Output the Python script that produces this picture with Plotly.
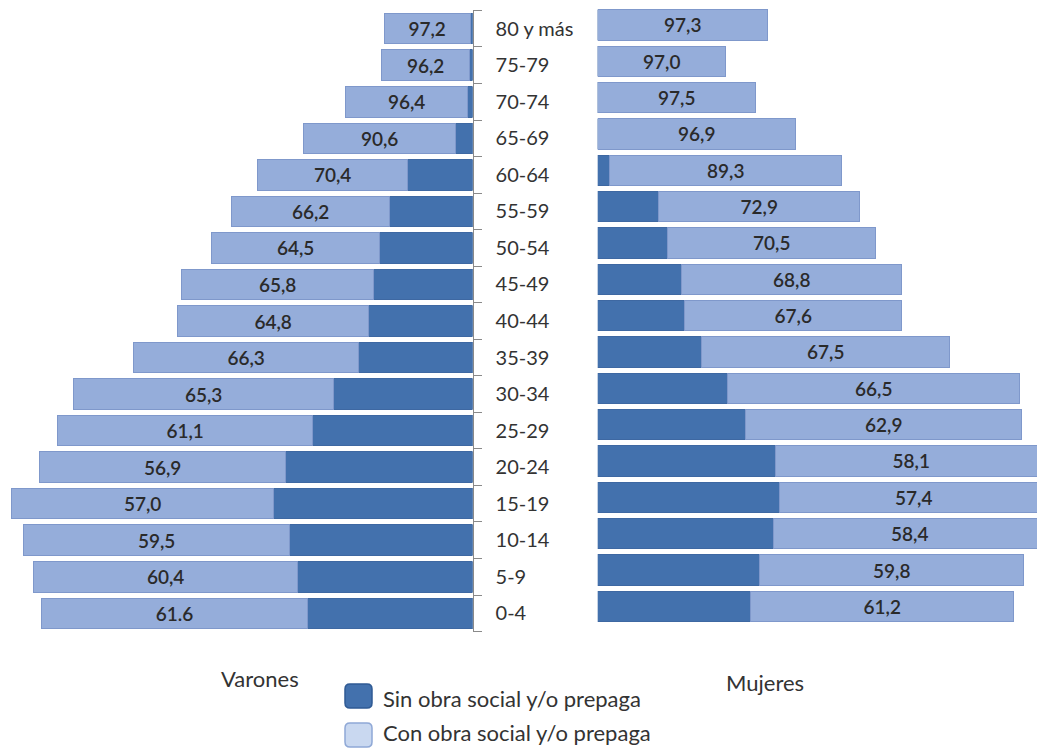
import plotly.graph_objects as go

# ---------------- data ----------------
age_groups = ["0-4", "5-9", "10-14", "15-19", "20-24", "25-29", "30-34", "35-39",
              "40-44", "45-49", "50-54", "55-59", "60-64", "65-69", "70-74",
              "75-79", "80 y más"]

# Varones (arbitrary population units)
varones_sin = [165, 175, 183, 199, 187, 160, 139, 114, 104, 99, 93, 83, 65, 17, 5, 3, 2.5]
varones_con = [266, 264, 266, 262, 246, 255, 260, 225, 191, 192, 168, 158, 150, 152, 122, 88, 86]
varones_pct = ["61.6", "60,4", "59,5", "57,0", "56,9", "61,1", "65,3", "66,3", "64,8",
               "65,8", "64,5", "66,2", "70,4", "90,6", "96,4", "96,2", "97,2"]

# Mujeres
mujeres_sin = [153, 162, 176, 182, 178, 148, 130, 104, 87, 84, 70, 61, 12, 0, 0, 0, 0]
mujeres_con = [263, 264, 272, 268, 271, 276, 292, 248, 217, 220, 208, 201, 232, 198, 158, 128, 170]
mujeres_pct = ["61,2", "59,8", "58,4", "57,4", "58,1", "62,9", "66,5", "67,5", "67,6",
               "68,8", "70,5", "72,9", "89,3", "96,9", "97,5", "97,0", "97,3"]

legend_labels = ["Sin obra social y/o prepaga", "Con obra social y/o prepaga"]
side_titles = ["Varones", "Mujeres"]

# ---------------- style ----------------
W, H = 1037, 749
DARK = "#4371AD"
DARK_LINE = "#3E68A2"
LIGHT = "#95ADDA"
LIGHT_LINE = "#7F98CB"
TXT = "#2A2A2A"
FONT = "Lato"

def px_x(p):
    return p / W

def px_y(p):
    return 1 - p / H

fig = go.Figure()

common_text = dict(textposition="inside", insidetextanchor="middle", textangle=0,
                   constraintext="none",
                   textfont=dict(family=FONT, size=19, color=TXT, weight=600))

fig.add_trace(go.Bar(y=age_groups, x=varones_sin, orientation="h", xaxis="x", yaxis="y",
                     marker=dict(color=DARK, line=dict(color=DARK_LINE, width=1)),
                     name=legend_labels[0], showlegend=False, hoverinfo="skip"))
fig.add_trace(go.Bar(y=age_groups, x=varones_con, orientation="h", xaxis="x", yaxis="y",
                     marker=dict(color=LIGHT, line=dict(color=LIGHT_LINE, width=1)),
                     text=varones_pct, name=legend_labels[1], showlegend=False,
                     hoverinfo="skip", **common_text))
fig.add_trace(go.Bar(y=age_groups, x=mujeres_sin, orientation="h", xaxis="x2", yaxis="y2",
                     marker=dict(color=DARK, line=dict(color=DARK_LINE, width=1)),
                     name=legend_labels[0], showlegend=False, hoverinfo="skip"))
fig.add_trace(go.Bar(y=age_groups, x=mujeres_con, orientation="h", xaxis="x2", yaxis="y2",
                     marker=dict(color=LIGHT, line=dict(color=LIGHT_LINE, width=1)),
                     text=mujeres_pct, name=legend_labels[1], showlegend=False,
                     hoverinfo="skip", **common_text))

left_edge = 472.6
right_start = 597.7

fig.update_layout(
    width=W, height=H,
    margin=dict(l=0, r=0, t=0, b=0),
    paper_bgcolor="white", plot_bgcolor="rgba(0,0,0,0)",
    barmode="stack", bargap=0.165,
    font=dict(family=FONT, color=TXT),
    xaxis=dict(domain=[0, px_x(left_edge)], range=[left_edge, 0], visible=False,
               fixedrange=True),
    xaxis2=dict(domain=[px_x(right_start), 1], range=[0, W - right_start], visible=False,
                fixedrange=True),
    yaxis=dict(anchor="x", side="right", domain=[px_y(631.6), px_y(10.4)],
               type="category", categoryorder="array", categoryarray=age_groups,
               range=[-0.5, 16.5], tickson="boundaries", ticks="outside", ticklen=8,
               tickcolor="#8A8A8A", showline=True, linecolor="#8A8A8A", linewidth=1,
               showgrid=False, ticklabelstandoff=18,
               tickfont=dict(family=FONT, size=20, color="#333333")),
    yaxis2=dict(anchor="x2", domain=[px_y(624.5), px_y(6.8)],
                type="category", categoryorder="array", categoryarray=age_groups,
                range=[-0.5, 16.5], visible=False, showgrid=False),
    showlegend=False,
)

# side titles
fig.add_annotation(x=px_x(219), y=px_y(678), xref="paper", yref="paper", text=side_titles[0],
                   showarrow=False, xanchor="left", yanchor="middle",
                   font=dict(family=FONT, size=22, color="#333333"))
fig.add_annotation(x=px_x(724), y=px_y(682), xref="paper", yref="paper", text=side_titles[1],
                   showarrow=False, xanchor="left", yanchor="middle",
                   font=dict(family=FONT, size=22, color="#333333"))

# custom legend
def rounded_rect(x0, y0, x1, y1, r):
    rx, ry = r / W, r / H
    X0, X1 = px_x(x0), px_x(x1)
    Y0, Y1 = px_y(y1), px_y(y0)  # Y0 bottom, Y1 top
    return (f"M {X0+rx},{Y0} L {X1-rx},{Y0} Q {X1},{Y0} {X1},{Y0+ry} "
            f"L {X1},{Y1-ry} Q {X1},{Y1} {X1-rx},{Y1} L {X0+rx},{Y1} "
            f"Q {X0},{Y1} {X0},{Y1-ry} L {X0},{Y0+ry} Q {X0},{Y0} {X0+rx},{Y0} Z")

legend_items = [(DARK, "#2F5A94", 684, 708, 698), ("#C9D8F0", "#8FA8D6", 723, 747, 732)]
for (fill, edge, t, b, tc), lab in zip(legend_items, legend_labels):
    fig.add_shape(type="path", xref="paper", yref="paper",
                  path=rounded_rect(345, t, 372, b, 5),
                  fillcolor=fill, line=dict(color=edge, width=1.5))
    fig.add_annotation(x=px_x(381), y=px_y(tc), xref="paper", yref="paper", text=lab,
                       showarrow=False, xanchor="left", yanchor="middle",
                       font=dict(family=FONT, size=22, color="#333333"))

fig.write_html("out.html")
